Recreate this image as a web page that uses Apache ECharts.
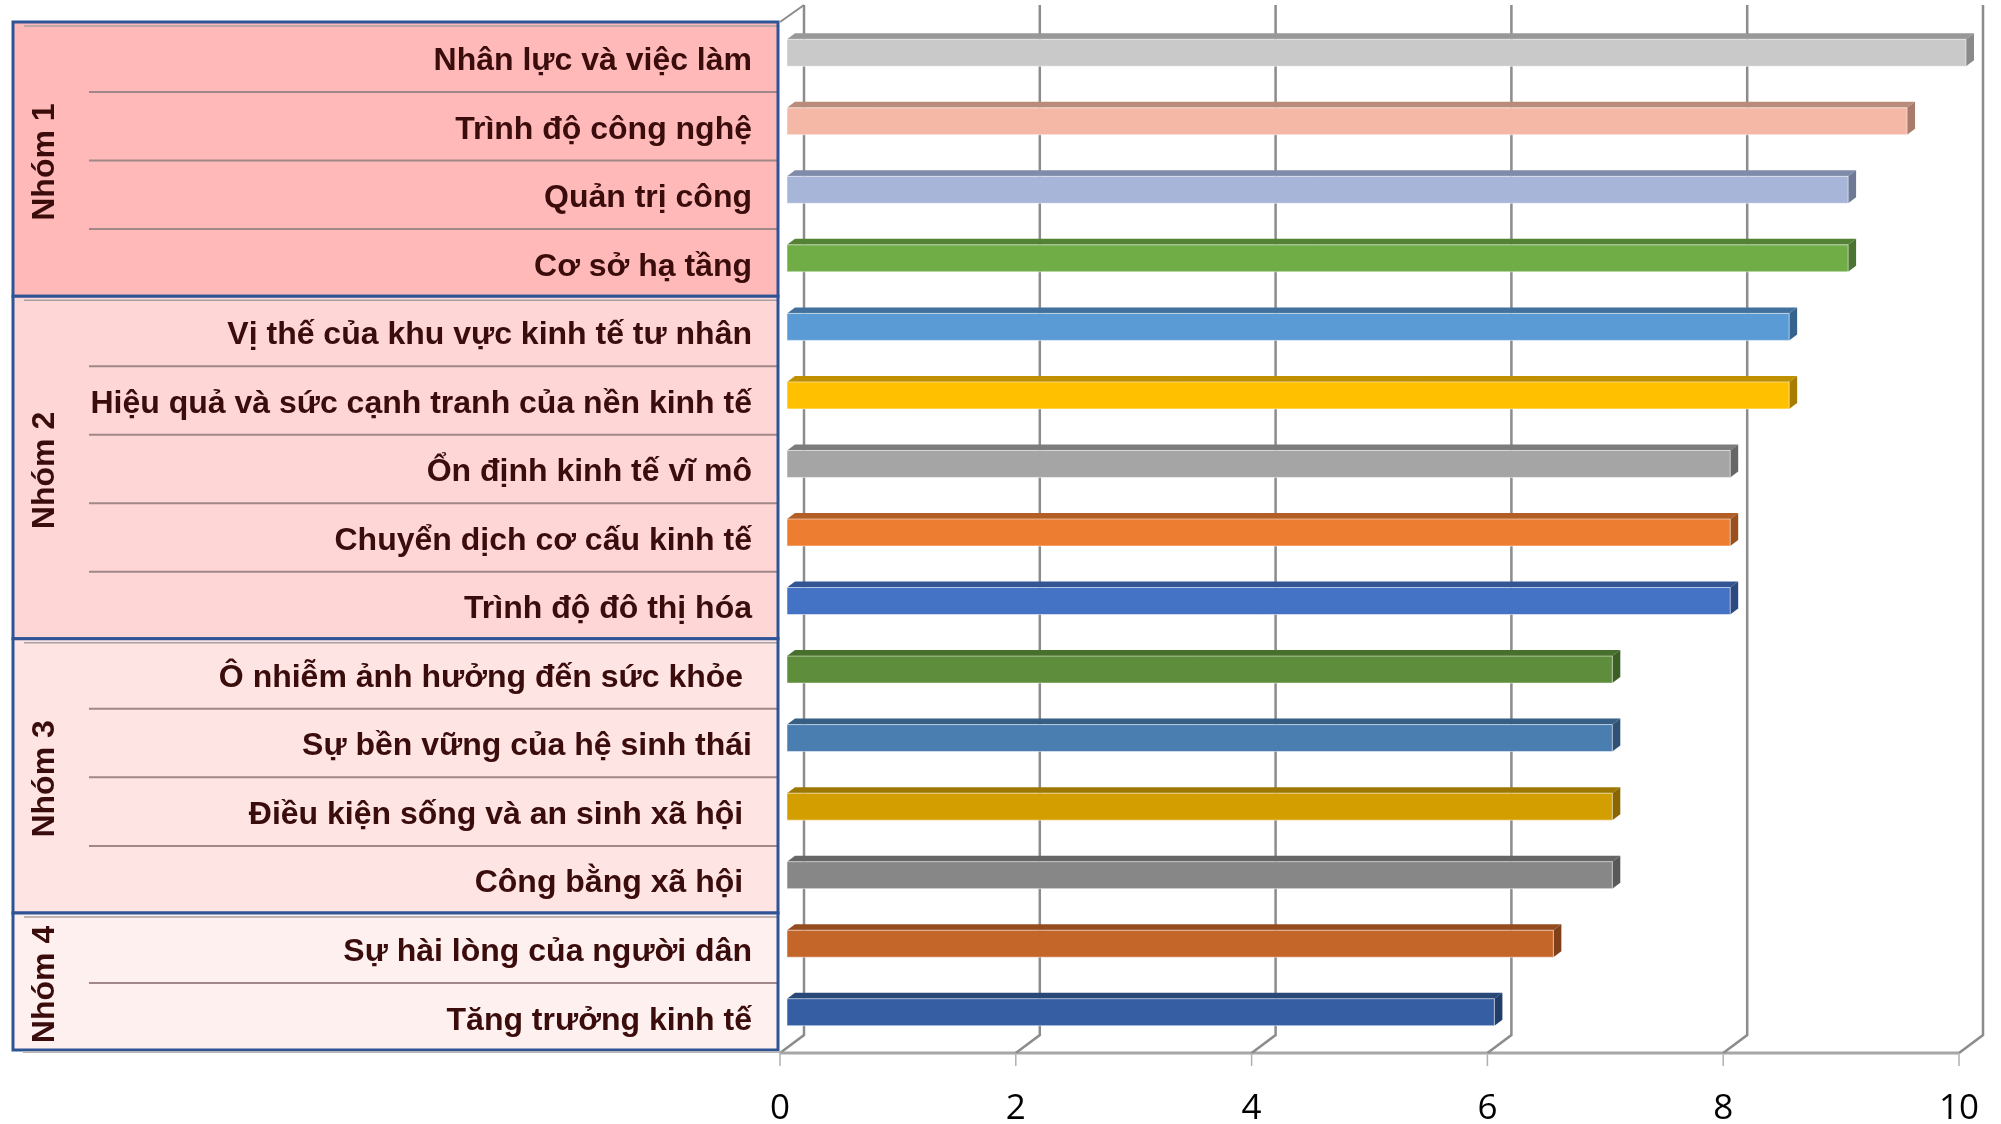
<!DOCTYPE html>
<html><head><meta charset="utf-8">
<script src="https://cdn.jsdelivr.net/npm/echarts@6/dist/echarts.min.js"></script>
<style>html,body{margin:0;padding:0;background:#fff}#c{width:2001px;height:1124px}</style>
</head><body><div id="c"></div>
<script>
// ---- data ----
const categories = ['Nhân lực và việc làm','Trình độ công nghệ','Quản trị công','Cơ sở hạ tầng','Vị thế của khu vực kinh tế tư nhân','Hiệu quả và sức cạnh tranh của nền kinh tế','Ổn định kinh tế vĩ mô','Chuyển dịch cơ cấu kinh tế','Trình độ đô thị hóa','Ô nhiễm ảnh hưởng đến sức khỏe ','Sự bền vững của hệ sinh thái','Điều kiện sống và an sinh xã hội ','Công bằng xã hội ','Sự hài lòng của người dân','Tăng trưởng kinh tế'];
const values = [10, 9.5, 9, 9, 8.5, 8.5, 8, 8, 8, 7, 7, 7, 7, 6.5, 6];
const groupNames = ['Nhóm 1','Nhóm 2','Nhóm 3','Nhóm 4'];
const groupSizes = [4, 5, 4, 2];
const xTicks = [0, 2, 4, 6, 8, 10];

// ---- styles ----
const frontColors = ['#C9C9C9','#F5B8A6','#A7B5D9','#70AD47','#5B9BD5','#FFC000','#A5A5A5','#ED7D31','#4472C4','#5E8E3B','#4A7EB1','#D39E00','#878787','#C4652A','#365FA3'];
const topColors   = ['#989898','#B98B7A','#7F8BA8','#548235','#41719C','#BF9000','#7C7C7C','#B35E25','#335593','#46702C','#375E85','#9E7700','#666666','#944C1F','#294777'];
const sideColors  = ['#8A8A8A','#A87B6C','#6E7A95','#4A7530','#36638E','#A67D00','#666666','#9A4F1E','#2C4A80','#3C5F25','#2F5173','#896600','#595959','#80411A','#223D68'];
const groupFills = ['#FFB9B9','#FFD6D6','#FFE4E4','#FFF0F0'];
const textColor = '#3A0C0C';
const borderBlue = '#2F5496';

const chart = echarts.init(document.getElementById('c'));

const barData = values.map((v, i) => [v, i]);
let start = 0;
const groupData = groupSizes.map((s, g) => { const d = [0, start, s, g]; start += s; return d; });
const tickData = xTicks.map(t => [t, 0]);

function renderBar(params, api) {
  const idx = params.dataIndex;
  const v = api.value(0), i = api.value(1);
  const p0 = api.coord([0, i]), p1 = api.coord([v, i]);
  const h = 27;
  const ox = 7, oy = -3.5, dx = 8, dy = -6;
  const x0 = p0[0] + ox, x1 = p1[0] + ox;
  const yT = p0[1] - h / 2 + oy, yB = p0[1] + h / 2 + oy;
  return { type: 'group', children: [
    { type: 'polygon', shape: { points: [[x0, yT], [x1, yT], [x1 + dx, yT + dy], [x0 + dx, yT + dy]] }, style: { fill: topColors[idx] } },
    { type: 'polygon', shape: { points: [[x1, yT], [x1 + dx, yT + dy], [x1 + dx, yB + dy], [x1, yB]] }, style: { fill: sideColors[idx] } },
    { type: 'rect', shape: { x: x0, y: yT, width: x1 - x0, height: h }, style: { fill: frontColors[idx], stroke: 'rgba(255,255,255,0.5)', lineWidth: 1 } }
  ]};
}

function renderFrame(params, api) {
  const cs = params.coordSys;
  const t = api.value(0);
  const x = api.coord([t, 0])[0];
  const floorY = cs.y + cs.height + 3;
  const backY = floorY - 18;
  const topY = cs.y - 17;
  const gx = 24;
  const ch = [
    { type: 'polyline', shape: { points: [[x + gx, topY], [x + gx, backY], [x, floorY]] }, style: { stroke: '#8C8C8C', lineWidth: 2.5, fill: null } },
    { type: 'line', shape: { x1: x, y1: floorY, x2: x, y2: floorY + 13 }, style: { stroke: '#B0B0B0', lineWidth: 1.5 } }
  ];
  if (params.dataIndex === 0) {
    const xEnd = api.coord([xTicks[xTicks.length - 1], 0])[0];
    ch.push({ type: 'line', shape: { x1: x, y1: cs.y, x2: x + gx, y2: topY }, style: { stroke: '#8C8C8C', lineWidth: 2 } });
    ch.push({ type: 'line', shape: { x1: 23, y1: floorY - 1, x2: x, y2: floorY - 1 }, style: { stroke: '#B5B5B5', lineWidth: 2 } });
    ch.push({ type: 'line', shape: { x1: x, y1: floorY, x2: xEnd, y2: floorY }, style: { stroke: '#A6A6A6', lineWidth: 3 } });
  }
  return { type: 'group', children: ch };
}

function renderTable(params, api) {
  const s0 = api.value(1), n = api.value(2), g = api.value(3);
  const band = api.size([0, 1])[1];
  const top = api.coord([0, s0])[1] - band / 2;
  const bottom = top + n * band;
  const left = 13, right = 778;
  const ch = [
    { type: 'rect', shape: { x: left, y: top, width: right - left, height: bottom - top }, style: { fill: groupFills[g] } },
    { type: 'line', shape: { x1: 24, y1: top + 4, x2: right, y2: top + 4 }, style: { stroke: '#A8A0A0', lineWidth: 1.5 } }
  ];
  for (let k = 1; k < n; k++) {
    const y = top + k * band + 1.5;
    ch.push({ type: 'line', shape: { x1: 89, y1: y, x2: right, y2: y }, style: { stroke: '#A08888', lineWidth: 2 } });
  }
  ch.push({ type: 'rect', shape: { x: left, y: top, width: right - left, height: bottom - top }, style: { fill: null, stroke: borderBlue, lineWidth: 3 } });
  ch.push({ type: 'text', x: 45, y: (top + bottom) / 2 + 3, rotation: Math.PI / 2,
    style: { text: groupNames[g], fill: textColor, font: 'bold 32px "Liberation Sans", Arial, sans-serif', align: 'center', verticalAlign: 'middle' } });
  return { type: 'group', children: ch };
}

chart.setOption({
  animation: false,
  backgroundColor: '#fff',
  grid: { left: 780, right: 42, top: 22, bottom: 74, outerBoundsMode: 'none', containLabel: false },
  xAxis: {
    type: 'value', min: 0, max: 10, interval: 2,
    axisLine: { show: false }, axisTick: { show: false }, splitLine: { show: false },
    axisLabel: { fontSize: 35, fontFamily: '"Open Sans", sans-serif', color: '#000', margin: 59, verticalAlign: 'middle' }
  },
  yAxis: {
    type: 'category', data: categories, inverse: true, z: 10,
    axisLine: { show: false }, axisTick: { show: false }, splitLine: { show: false },
    axisLabel: { interval: 0, fontSize: 32, fontWeight: 'bold', fontFamily: '"Liberation Sans", Arial, sans-serif', color: textColor, margin: 28, align: 'right', verticalAlign: 'top', lineHeight: 10 }
  },
  series: [
    { type: 'custom', z: 1, renderItem: renderTable, data: groupData, encode: { x: 0, y: 1 }, clip: false, silent: true },
    { type: 'custom', z: 1, renderItem: renderFrame, data: tickData, encode: { x: 0, y: 1 }, clip: false, silent: true },
    { type: 'custom', z: 3, renderItem: renderBar, data: barData, encode: { x: 0, y: 1 }, clip: false }
  ]
});
</script></body></html>
